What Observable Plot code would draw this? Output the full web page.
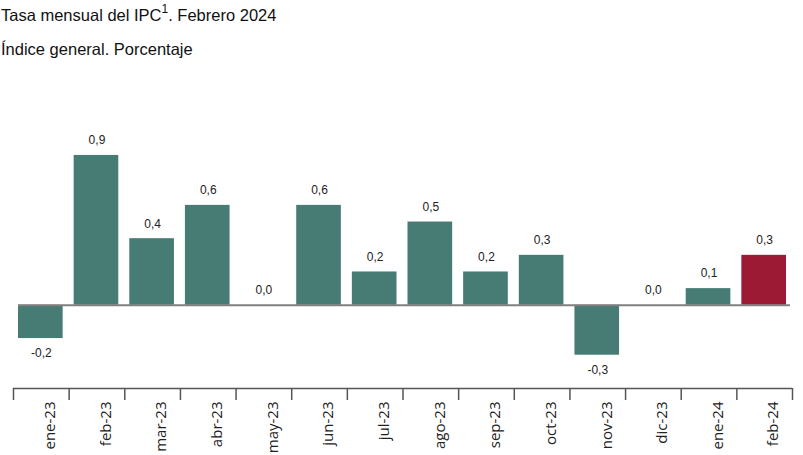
<!DOCTYPE html>
<html>
<head>
<meta charset="utf-8">
<script src="https://cdn.jsdelivr.net/npm/d3@7"></script>
<script src="https://cdn.jsdelivr.net/npm/@observablehq/plot@0.6"></script>
<style>
  html, body { margin: 0; padding: 0; background: #fff; }
  #header { position: relative; width: 803px; height: 70px; font-family: "Liberation Sans", Arial, sans-serif; color: #111; }
  #title { position: absolute; left: 1px; top: 1px; font-size: 16.5px; line-height: 18px; }
  #title sup { font-size: 12px; position: relative; top: -1px; }
  #subtitle { position: absolute; left: 1px; top: 40px; font-size: 16.5px; line-height: 18px; }
  svg { display: block; }
</style>
</head>
<body>
<div id="header">
  <div id="title">Tasa mensual del IPC<sup>1</sup>. Febrero 2024</div>
  <div id="subtitle">Índice general. Porcentaje</div>
</div>
<div id="chart"></div>
<script>
const months = ["ene-23","feb-23","mar-23","abr-23","may-23","jun-23","jul-23","ago-23","sep-23","oct-23","nov-23","dic-23","ene-24","feb-24"];
const values = [-0.2, 0.9, 0.4, 0.6, 0.0, 0.6, 0.2, 0.5, 0.2, 0.3, -0.3, 0.0, 0.1, 0.3];
const highlight = "feb-24";
const teal = "#467c74";
const red = "#9c1a34";

const data = months.map((m, i) => ({m, i, v: values[i]}));
const fmt = v => v.toFixed(1).replace(".", ",");
const edges = d3.range(months.length + 1);

const chart = Plot.plot({
  width: 803,
  height: 385,
  marginLeft: 13,
  marginRight: 11,
  marginTop: 35,
  marginBottom: 67,
  x: {domain: [0, months.length], axis: null, label: null},
  y: {domain: [-0.5, 1.2], axis: null, label: null},
  marks: [
    Plot.rectY(data, {x1: "i", x2: d => d.i + 1, y1: 0, y2: "v", insetLeft: 5, insetRight: 6,
      fill: d => d.m === highlight ? red : teal}),
    Plot.ruleY([0], {stroke: "#808080", strokeWidth: 2, insetLeft: 5, insetRight: 2}),
    Plot.ruleY([-0.5], {stroke: "#555", strokeWidth: 1.5}),
    Plot.axisX({ticks: edges, tickSize: 12, tickFormat: () => "", label: null, stroke: "#555", strokeWidth: 1.5}),
    Plot.text(data.filter(d => d.v >= 0), {x: d => d.i + 0.5, y: "v", text: d => fmt(d.v), dy: -15,
      fontSize: 12, fontFamily: "Liberation Sans, Arial, sans-serif", fill: "#222"}),
    Plot.text(data.filter(d => d.v < 0), {x: d => d.i + 0.5, y: "v", text: d => fmt(d.v), dy: 15,
      fontSize: 12, fontFamily: "Liberation Sans, Arial, sans-serif", fill: "#222"}),
    Plot.text(data, {x: d => d.i + 0.5, y: -0.5, text: "m", rotate: -90, textAnchor: "end",
      dx: 9, dy: 13, fontSize: 15, fontFamily: "Open Sans, sans-serif", fill: "#222"})
  ]
});
document.getElementById("chart").appendChild(chart);
</script>
</body>
</html>
